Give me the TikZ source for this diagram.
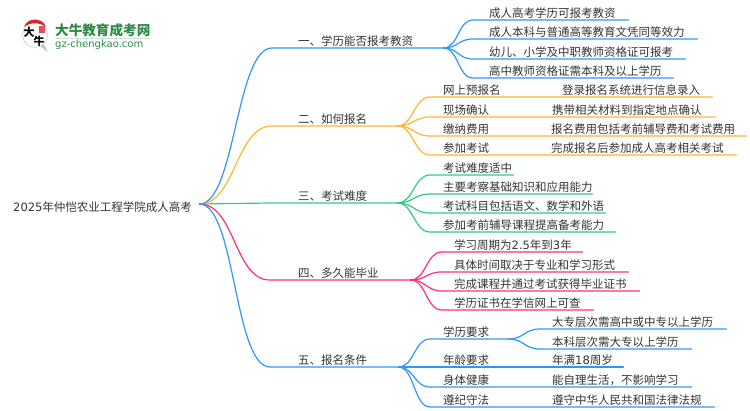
\documentclass[tikz,border=0pt]{standalone}
\usepackage{fontspec}
\setmainfont{Noto Sans CJK SC}
\newfontfamily\dejavu{DejaVu Sans}
\usepackage{color}
\usepackage{tikz}

\definecolor{lineblue}{HTML}{2E96FF}
\definecolor{lineorange}{HTML}{FFB52E}
\definecolor{linegreen}{HTML}{2ECC80}
\definecolor{linepink}{HTML}{FF2E7E}
\definecolor{textgray}{HTML}{333333}
\definecolor{logogreen}{HTML}{2E8B45}
\definecolor{logored}{HTML}{D8262C}

\tikzset{
  leaf/.style={anchor=south west, inner sep=0pt, text height=11pt, text depth=2.5pt,
    text=textgray, font=\fontsize{11.5}{14}\selectfont},
  bendto/.style={to path={.. controls +(#1,0) and +(-#1,0) .. (\tikztotarget)}},
  conn/.style={line width=1.2pt, line cap=round}
}

\begin{document}
\begin{tikzpicture}[x=1pt, y=-1pt]
  \useasboundingbox (0,0) rectangle (750,410);

  % logo
  \fill[gray!45] (40,46) -- (48,52) -- (44,44) -- cycle;
  \draw[gray!40, fill=white, line width=0.6pt] (35,35) circle (12.5);
  \fill[logored] (24,27) .. controls (27,17) and (43,17) .. (46,27) .. controls (40,22) and (30,22) .. (24,27) -- cycle;
  \fill[logored!80] (39,26) rectangle (45,33);
  \node (logoda) [inner sep=0pt, font=\fontsize{11}{11}\selectfont\bfseries] at (29,32) {大};
  \node (logoniu) [inner sep=0pt, font=\fontsize{11}{11}\selectfont\bfseries] at (39,41) {牛};
  \node (logotitle) [anchor=west, inner sep=0pt, text=logogreen, font=\fontsize{13.6}{14}\selectfont\bfseries] at (55,30) {大牛教育成考网};
  \node (logourl) [anchor=west, inner sep=0pt, text=logogreen, font=\fontsize{10}{11}\selectfont\dejavu] at (55,45) {gz-chengkao.com};
  \draw[logogreen!25, line width=0.8pt] (55,38.5) -- (150,38.5);

  % root
  \node (root) [anchor=west, inner sep=0pt, text width=186pt, text height=15pt, text depth=0pt, text=textgray, font=\fontsize{11.5}{14}\selectfont] at (13,204) {{\dejavu 2025}年仲恺农业工程学院成人高考};

  % branches
  \node (b1) [leaf, text width=171pt] at (272,48) {\hspace*{26pt}一、学历能否报考教资};
  \node (b2) [leaf, text width=125pt] at (272,126) {\hspace*{26pt}二、如何报名};
  \node (b3) [leaf, text width=127pt] at (270,203) {\hspace*{28pt}三、考试难度};
  \node (b4) [leaf, text width=140pt] at (270,280) {\hspace*{28pt}四、多久能毕业};
  \node (b5) [leaf, text width=128pt] at (270,367) {\hspace*{28pt}五、报名条件};

  % leaves of b1
  \node (l11) [leaf, text width=155pt] at (473,20) {\hspace*{16pt}成人高考学历可报考教资};
  \node (l12) [leaf, text width=224pt] at (473,39) {\hspace*{16pt}成人本科与普通高等教育文凭同等效力};
  \node (l13) [leaf, text width=212pt] at (473,59) {\hspace*{16pt}幼儿、小学及中职教师资格证可报考};
  \node (l14) [leaf, text width=200pt] at (473,78) {\hspace*{16pt}高中教师资格证需本科及以上学历};

  % leaves of b2
  \node (l21) [leaf, text width=282pt] at (430,97) {\hspace*{13pt}\makebox[119pt][l]{网上预报名}登录报名系统进行信息录入};
  \node (l22) [leaf, text width=285pt] at (430,117) {\hspace*{13pt}\makebox[109pt][l]{现场确认}携带相关材料到指定地点确认};
  \node (l23) [leaf, text width=316pt] at (430,136) {\hspace*{13pt}\makebox[108pt][l]{缴纳费用}报名费用包括考前辅导费和考试费用};
  \node (l24) [leaf, text width=306pt] at (430,155) {\hspace*{13pt}\makebox[108pt][l]{参加考试}完成报名后参加成人高考相关考试};

  % leaves of b3
  \node (l31) [leaf, text width=83pt] at (430,175) {\hspace*{13pt}考试难度适中};
  \node (l32) [leaf, text width=162pt] at (430,194) {\hspace*{13pt}主要考察基础知识和应用能力};
  \node (l33) [leaf, text width=175pt] at (430,213) {\hspace*{13pt}考试科目包括语文、数学和外语};
  \node (l34) [leaf, text width=185pt] at (430,232) {\hspace*{13pt}参加考前辅导课程提高备考能力};

  % leaves of b4
  \node (l41) [leaf, text width=140pt] at (442,252) {\hspace*{12pt}学习周期为{\dejavu 2.5}年到{\dejavu 3}年};
  \node (l42) [leaf, text width=186pt] at (442,272) {\hspace*{12pt}具体时间取决于专业和学习形式};
  \node (l43) [leaf, text width=197pt] at (442,291) {\hspace*{12pt}完成课程并通过考试获得毕业证书};
  \node (l44) [leaf, text width=151pt] at (442,310) {\hspace*{12pt}学历证书在学信网上可查};

  % leaves of b5
  \node (l51) [leaf, text width=78pt] at (430,339) {\hspace*{13pt}学历要求};
  \node (l52) [leaf, text width=193pt] at (430,367) {\hspace*{13pt}\makebox[109pt][l]{年龄要求}年满{\dejavu 18}周岁};
  \node (l53) [leaf, text width=261pt] at (430,387) {\hspace*{13pt}\makebox[109pt][l]{身体健康}能自理生活，不影响学习};
  \node (l54) [leaf, text width=284pt] at (430,407) {\hspace*{13pt}\makebox[109pt][l]{遵纪守法}遵守中华人民共和国法律法规};
  \node (l511) [leaf, text width=186pt] at (540,329) {\hspace*{12pt}大专层次需高中或中专以上学历};
  \node (l512) [leaf, text width=151pt] at (540,349) {\hspace*{12pt}本科层次需大专以上学历};

  % connectors
  \draw[conn, lineblue] (root.east) to[bendto=36] (b1.south west) -- (b1.south east);
  \draw[conn, lineorange] (root.east) to[bendto=36] (b2.south west) -- (b2.south east);
  \draw[conn, linegreen] (root.east) to[bendto=36] (b3.south west) -- (b3.south east);
  \draw[conn, linepink] (root.east) to[bendto=36] (b4.south west) -- (b4.south east);
  \draw[conn, lineblue] (root.east) to[bendto=36] (b5.south west) -- (b5.south east);

  \draw[conn, lineblue] (b1.south east) to[bendto=15] (l11.south west) -- (l11.south east);
  \draw[conn, lineblue] (b1.south east) to[bendto=15] (l12.south west) -- (l12.south east);
  \draw[conn, lineblue] (b1.south east) to[bendto=15] (l13.south west) -- (l13.south east);
  \draw[conn, lineblue] (b1.south east) to[bendto=15] (l14.south west) -- (l14.south east);

  \draw[conn, lineorange] (b2.south east) to[bendto=16] (l21.south west) -- (l21.south east);
  \draw[conn, lineorange] (b2.south east) to[bendto=16] (l22.south west) -- (l22.south east);
  \draw[conn, lineorange] (b2.south east) to[bendto=16] (l23.south west) -- (l23.south east);
  \draw[conn, lineorange] (b2.south east) to[bendto=16] (l24.south west) -- (l24.south east);

  \draw[conn, linegreen] (b3.south east) to[bendto=16] (l31.south west) -- (l31.south east);
  \draw[conn, linegreen] (b3.south east) to[bendto=16] (l32.south west) -- (l32.south east);
  \draw[conn, linegreen] (b3.south east) to[bendto=16] (l33.south west) -- (l33.south east);
  \draw[conn, linegreen] (b3.south east) to[bendto=16] (l34.south west) -- (l34.south east);

  \draw[conn, linepink] (b4.south east) to[bendto=16] (l41.south west) -- (l41.south east);
  \draw[conn, linepink] (b4.south east) to[bendto=16] (l42.south west) -- (l42.south east);
  \draw[conn, linepink] (b4.south east) to[bendto=16] (l43.south west) -- (l43.south east);
  \draw[conn, linepink] (b4.south east) to[bendto=16] (l44.south west) -- (l44.south east);

  \draw[conn, lineblue] (b5.south east) to[bendto=16] (l51.south west) -- (l51.south east);
  \draw[conn, lineblue] (b5.south east) to[bendto=16] (l52.south west) -- (l52.south east);
  \draw[conn, lineblue] (b5.south east) to[bendto=16] (l53.south west) -- (l53.south east);
  \draw[conn, lineblue] (b5.south east) to[bendto=16] (l54.south west) -- (l54.south east);
  \draw[conn, lineblue] (l51.south east) to[bendto=16] (l511.south west) -- (l511.south east);
  \draw[conn, lineblue] (l51.south east) to[bendto=16] (l512.south west) -- (l512.south east);
\end{tikzpicture}
\end{document}
